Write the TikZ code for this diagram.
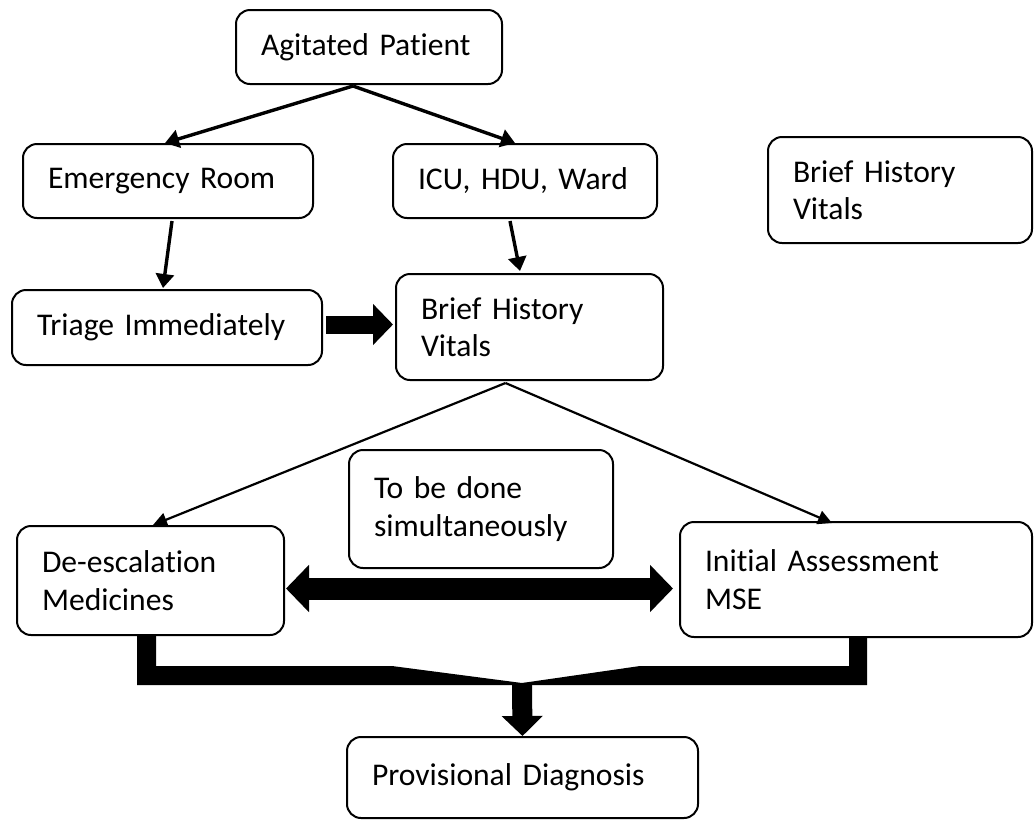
\documentclass[tikz,border=0pt]{standalone}
\usepackage{fontspec}
\setmainfont{Carlito}[RawFeature={-liga;-clig;-calt;-dlig}, WordSpace=0.7]
\usetikzlibrary{arrows.meta,calc}

\tikzset{
  box/.style={draw, line width=1pt, rounded corners=7pt, inner xsep=12.5pt,
    inner ysep=0pt, align=left, anchor=center,
    font=\fontsize{15.8}{18.7}\selectfont},
  link/.style={line width=1.7pt, -{Triangle[length=7pt,width=9pt]}},
  slimlink/.style={line width=1.1pt, -{Triangle[length=7pt,width=7pt]}},
  fatlink/.style={line width=9pt, -{Triangle[length=10pt,width=20pt]}},
  twinlink/.style={line width=11pt,
    {Triangle[length=11.5pt,width=23pt]}-{Triangle[length=11.5pt,width=23pt]}},
}

\begin{document}
\begin{tikzpicture}[x=0.5pt,y=-0.5pt]
  \useasboundingbox[fill=white] (0,0) rectangle (1034,821);

  % boxes
  \node[box, minimum height=37pt,   text width=108pt]   (agit)  at (369,47)      {Agitated Patient};
  \node[box, minimum height=37pt,   text width=120pt]   (er)    at (168,181)     {Emergency Room};
  \node[box, minimum height=37pt,   text width=107pt]   (icu)   at (525,181)     {ICU, HDU, Ward};
  \node[box, minimum height=53pt,   text width=107pt]   (bhr)   at (900,190)     {Brief History\\Vitals};
  \node[box, minimum height=37.5pt, text width=130pt]   (triage) at (167,327.5)  {Triage Immediately};
  \node[box, minimum height=53pt,   text width=108.5pt] (bhm)   at (529.5,327)   {Brief History\\Vitals};
  \node[box, minimum height=59pt,   text width=107pt]   (todo)  at (481,509)     {To be done\\simultaneously};
  \node[box, minimum height=54.5pt, text width=108.5pt] (deesc) at (150.5,580.5) {De-escalation\\Medicines};
  \node[box, minimum height=57.5pt, text width=151pt]   (init)  at (856,579.5)   {Initial Assessment\\MSE};
  \node[box, minimum height=40.5pt, text width=150.5pt] (prov)  at (522.5,777.5) {Provisional Diagnosis};

  % thin connectors
  \draw[link] ([xshift=-8pt,yshift=-0.5pt]agit.south) -- ([xshift=-1.5pt]er.north);
  \draw[link] ([xshift=-8pt,yshift=-0.5pt]agit.south) -- ([xshift=-5pt]icu.north);
  \draw[link] ([xshift=2pt,yshift=-1pt]er.south) -- ([xshift=-2pt,yshift=0.5pt]triage.north);
  \draw[link] ([xshift=-7.5pt,yshift=-1pt]icu.south) -- ([xshift=-4.75pt,yshift=1pt]bhm.north);
  \draw[slimlink] ([xshift=-12pt,yshift=-1pt]bhm.south) -- ([xshift=1.25pt]deesc.north);
  \draw[slimlink] ([xshift=-12pt,yshift=-1pt]bhm.south) -- ([xshift=-12pt,yshift=-1pt]init.north);

  % block arrows
  \draw[fatlink, shorten <=1.5pt, shorten >=1pt]
    ([yshift=1.5pt]triage.east) -- ([yshift=1.5pt]bhm.west |- triage.east);
  \draw[twinlink, shorten <=0.5pt, shorten >=3pt]
    ([yshift=-4pt]deesc.east) -- ([yshift=-4pt]init.west |- deesc.east);

  % merging bars into the diagnosis
  \coordinate (merge) at (522,683);
  \fill (deesc.south -| 137,0) -- (deesc.south -| 156,0) -- (156,666) -- (392,666)
        -- (merge) -- (640,666) -- (849,666) -- (init.south -| 849,0)
        -- (init.south -| 867,0) -- (867,685) -- (137,685) -- cycle;
  \draw[fatlink, line width=10pt] (merge) -- (prov.north);
\end{tikzpicture}
\end{document}
